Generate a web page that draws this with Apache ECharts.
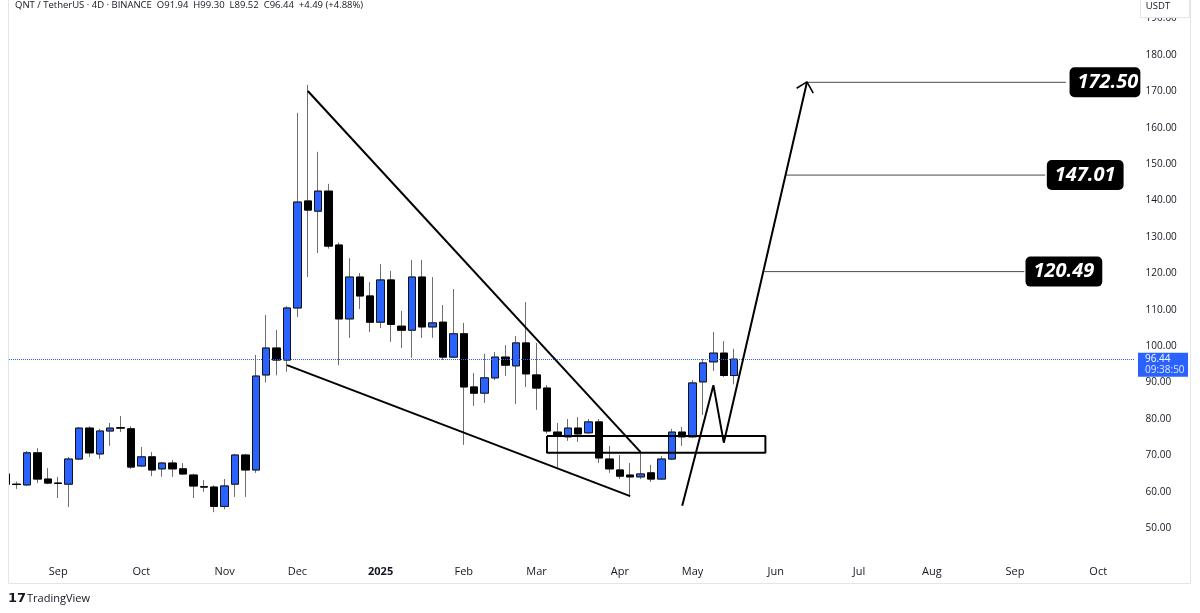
<!DOCTYPE html>
<html><head><meta charset="utf-8">
<script src="https://cdn.jsdelivr.net/npm/echarts@6/dist/echarts.min.js"></script>
<style>html,body{margin:0;padding:0;background:#fff;}#c{width:1200px;height:613px;}</style>
</head><body><div id="c"></div>
<script>
// ---- data ----
const opens  = [64.9,62.1,61.9,70.7,63.5,62.4,62.1,69.0,77.5,70.4,76.7,77.6,77.3,67.1,69.6,66.3,67.9,66.3,64.6,61.4,61.3,56.0,62.1,70.1,66.0,92.1,99.5,96.2,110.5,139.9,137.1,142.6,127.8,107.5,119.0,113.8,106.6,118.2,105.5,104.4,119.0,105.3,106.6,97.0,103.4,88.8,87.1,91.3,97.0,94.6,100.9,92.1,88.5,76.4,75.1,77.5,76.2,79.2,69.0,66.0,64.6,64.1,65.2,63.5,69.0,76.4,75.1,90.2,95.7,98.1,91.94];
const closes = [62.1,62.0,70.7,63.5,62.4,62.3,69.0,77.5,70.7,76.7,77.5,77.5,66.8,69.6,66.0,67.9,66.3,64.9,61.6,61.3,56.0,61.6,70.1,66.0,91.8,99.5,96.2,110.5,139.6,137.4,142.6,127.5,107.5,119.0,113.8,106.6,118.2,106.0,104.4,119.0,105.3,106.4,97.0,103.4,88.8,87.1,91.3,97.0,94.8,100.9,92.4,88.5,76.7,75.3,77.5,75.9,79.2,69.3,66.3,64.3,64.1,64.9,63.5,69.0,76.4,75.1,89.9,95.4,98.1,91.95,96.44];
const lows   = [61.5,60.8,61.6,62.4,62.1,58.3,55.8,68.7,69.6,69.0,72.6,76.4,66.3,66.8,64.3,64.1,64.1,64.6,58.3,60.0,54.4,55.2,58.6,58.6,65.2,90.0,92.0,93.0,108.0,119.0,125.6,126.8,94.8,102.3,110.2,103.9,105.0,101.2,99.5,96.8,102.3,102.3,96.2,96.8,72.9,83.6,84.4,90.7,91.8,84.1,88.8,82.5,76.0,66.8,74.0,73.7,75.9,67.9,65.2,63.5,58.6,63.5,62.7,63.2,68.7,72.6,74.8,81.1,93.2,91.5,89.52];
const highs  = [65.4,62.8,71.2,72.0,66.5,64.1,69.6,77.8,78.0,77.3,78.9,80.8,78.0,72.3,70.9,68.2,68.7,67.9,65.0,63.2,61.8,63.5,70.4,70.4,97.6,108.6,104.5,111.0,164.1,171.8,153.4,144.6,128.5,124.2,120.1,117.6,122.6,120.7,109.7,123.7,123.7,119.0,111.3,115.7,106.4,92.6,97.9,98.4,100.3,102.8,112.1,100.9,89.3,78.9,80.0,80.5,80.0,80.0,72.6,70.1,67.9,71.2,67.4,69.8,77.3,77.8,90.7,96.5,103.9,101.4,99.30];

const barCount = 109;               // 71 drawn bars + empty future bars
const startDay = Date.UTC(2024, 7, 12);
const barDates = [];
for (let k = 0; k < barCount; k++) barDates.push(new Date(startDay + k * 4 * 864e5).toISOString().slice(0, 10));

const tickDates  = ['2024-09-01','2024-10-03','2024-11-04','2024-12-02','2025-01-03','2025-02-04','2025-03-04','2025-04-05','2025-05-03','2025-06-04','2025-07-06','2025-08-03','2025-09-04','2025-10-06'];
const tickLabels = ['Sep','Oct','Nov','Dec','2025','Feb','Mar','Apr','May','Jun','Jul','Aug','Sep','Oct'];

// drawings (bar index, price)
const upperWedge = [[29, 170.1], [61, 70.9]];
const lowerWedge = [[27, 94.8], [60, 58.8]];
const zoneBars   = [52, 73];
const zonePrices = [70.7, 75.3];
const projection = [[65, 56.2], [68, 89.3], [69, 73.5], [77, 172.6]];
const arrowHead  = [[76.0, 170.85], [77, 172.6], [77.6, 169.5]];
const targetPrices = [120.49, 147.01, 172.50];
const targetStartBars = [72.9, 74.95, 77];
const targetEndBars   = [97.9, 99.9, 101.9];

// ---- chart ----
const ohlc = opens.map((o, i) => [o, closes[i], lows[i], highs[i]]);
const bodies = opens.map((o, i) => [o, closes[i], Math.min(o, closes[i]), Math.max(o, closes[i])]);
const last = ohlc.length - 1;
const chg = closes[last] - closes[last - 1];
const pct = chg / closes[last - 1] * 100;
const font = 'Open Sans';

const chart = echarts.init(document.getElementById('c'));

const blackLine = (data, w) => ({
  type: 'line', xAxisIndex: 1, yAxisIndex: 0, data: data, symbol: 'none', silent: true,
  lineStyle: { color: '#000', width: w }, z: 5, animation: false
});

const series = [
  {
    type: 'candlestick', xAxisIndex: 0, yAxisIndex: 0, data: ohlc, barWidth: 8, z: 2,
    itemStyle: { color: '#2962ff', color0: '#000000', borderColor: '#6e6e6e', borderColor0: '#6e6e6e', borderWidth: 1 },
    markLine: {
      silent: true, symbol: 'none', label: { show: false },
      lineStyle: { type: 'dotted', color: '#2962ff', width: 1, opacity: 1 },
      data: [{ yAxis: closes[last] }]
    }
  },
  {
    type: 'candlestick', xAxisIndex: 0, yAxisIndex: 0, data: bodies, barWidth: 8, z: 3,
    itemStyle: { color: '#2962ff', color0: '#000000', borderColor: '#141414', borderColor0: '#000000', borderWidth: 1 }
  },
  blackLine(upperWedge, 2),
  blackLine(lowerWedge, 2),
  blackLine([[zoneBars[0], zonePrices[1]], [zoneBars[1], zonePrices[1]], [zoneBars[1], zonePrices[0]], [zoneBars[0], zonePrices[0]], [zoneBars[0], zonePrices[1]]], 2),
  blackLine(projection, 2),
  blackLine(arrowHead, 1.6)
];
targetPrices.forEach((p, i) => {
  series.push({
    type: 'line', xAxisIndex: 1, yAxisIndex: 0, silent: true, symbol: 'none',
    data: [[targetStartBars[i], p], [targetEndBars[i], p]],
    lineStyle: { color: '#4a4a4a', width: 1 }, z: 4
  });
});
const labelX = [101.7, 103.75, 105.65];
const labelPad = [[4, 8], [4, 8], [4, 2, 4, 8]];
series.push({
  type: 'scatter', xAxisIndex: 1, yAxisIndex: 0, silent: true, symbol: 'rect', symbolSize: 1,
  itemStyle: { color: 'transparent', opacity: 1 }, z: 10,
  data: targetPrices.map((p, i) => ({
    name: p.toFixed(2), value: [labelX[i], p],
    label: { padding: labelPad[i] }
  })),
  label: {
    show: true, position: 'inside', formatter: '{b}', color: '#fff', backgroundColor: '#000', opacity: 1,
    borderRadius: 5, fontSize: 20, lineHeight: 22, fontWeight: 'bold', fontStyle: 'italic', fontFamily: font
  }
});

chart.setOption({
  animation: false,
  backgroundColor: '#ffffff',
  grid: { left: 1, top: -17.8, width: 1133.6, height: 582.4, outerBoundsMode: 'none', containLabel: false },
  xAxis: [
    {
      type: 'category', data: barDates, boundaryGap: true,
      axisLine: { show: false }, axisTick: { show: false }, splitLine: { show: false },
      axisLabel: {
        interval: (i, v) => tickDates.indexOf(v) >= 0,
        formatter: v => { const t = tickLabels[tickDates.indexOf(v)]; return /^\d{4}$/.test(t) ? '{b|' + t + '}' : t; },
        rich: { b: { fontWeight: 'bold', fontSize: 11, color: '#131722', fontFamily: font } },
        color: '#131722', fontSize: 11, margin: 2, fontFamily: font
      }
    },
    { type: 'value', min: -0.5, max: barCount - 0.5, show: false }
  ],
  yAxis: {
    type: 'value', position: 'right', min: 40, max: 200, interval: 10, scale: false,
    axisLine: { show: false }, axisTick: { show: false }, splitLine: { show: false },
    axisLabel: { margin: 11, color: '#131722', fontSize: 10, fontFamily: font,
      formatter: v => (v <= 40 || v >= 200) ? '' : v.toFixed(2) }
  },
  series: series
});

const pyLast = chart.convertToPixel({ yAxisIndex: 0 }, closes[last]);
const sgn = v => (v >= 0 ? '+' : '') + v.toFixed(2);
chart.setOption({
  graphic: [
    { type: 'rect', z: 50, shape: { x: 0, y: 0, width: 8, height: 613 }, style: { fill: '#fff' } },
    { type: 'rect', z: 51, shape: { x: 8.5, y: -2, width: 1182, height: 585.5 }, style: { fill: 'none', stroke: '#e3e5ea', lineWidth: 1 } },
    { type: 'text', z: 52, x: 15, y: 5, style: {
      text: 'QNT / TetherUS · 4D · BINANCE  O' + opens[last].toFixed(2) + '  H' + highs[last].toFixed(2) + '  L' + lows[last].toFixed(2) + '  C' + closes[last].toFixed(2) + '  ' + sgn(chg) + ' (' + sgn(pct) + '%)',
      fill: '#131722', font: '9.5px "Open Sans"', textVerticalAlign: 'middle' } },
    { type: 'rect', z: 52, shape: { x: 1140.5, y: -2, width: 49, height: 19.5 }, style: { fill: '#fff', stroke: '#e3e5ea', lineWidth: 1 } },
    { type: 'text', z: 53, x: 1158, y: 6, style: { text: 'USDT', fill: '#131722', font: '9.5px "Open Sans"', textAlign: 'center', textVerticalAlign: 'middle' } },
    { type: 'rect', z: 52, shape: { x: 1138, y: pyLast - 6.5, width: 50, height: 24 }, style: { fill: '#2962ff' } },
    { type: 'text', z: 53, x: 1145, y: pyLast, style: { text: closes[last].toFixed(2), fill: '#fff', font: '10px "Open Sans"', textVerticalAlign: 'middle' } },
    { type: 'text', z: 53, x: 1145, y: pyLast + 11, style: { text: '09:38:50', fill: '#dfe6ff', font: '10px "Open Sans"', textVerticalAlign: 'middle' } },
    { type: 'text', z: 52, x: 8, y: 599, style: { text: '17', fill: '#131722', font: 'bold 13px "DejaVu Sans"', textVerticalAlign: 'middle' } },
    { type: 'text', z: 52, x: 27, y: 599, style: { text: 'TradingView', fill: '#131722', font: '11px "Open Sans"', textVerticalAlign: 'middle' } }
  ]
});
</script>
</body></html>
